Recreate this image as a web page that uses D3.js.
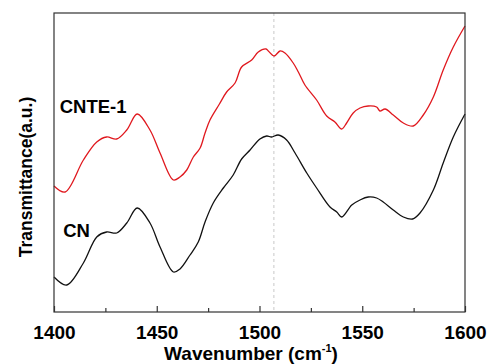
<!DOCTYPE html>
<html lang="en">
<head>
  <meta charset="UTF-8">
  <title>FTIR: CN and CNTE-1</title>
  <script src="https://d3js.org/d3.v7.min.js"></script>
  <style>
    body { margin: 0; background: #fff; }
    svg text { font-family: "Liberation Sans", Arial, sans-serif; font-weight: bold; fill: #000; }
    .line { fill: none; stroke-width: 1.3px; }
  </style>
</head>
<body>
  <svg width="487" height="364"></svg>
  <script>
    // wavenumbers (cm-1) and transmittance (a.u.)
    const cnteWave = [1400, 1405.4, 1414.3, 1420.8, 1425.6, 1430.5, 1435.4, 1440.5, 1446.7, 1451.6,
      1458.1, 1461.3, 1464.6, 1467.8, 1471.1, 1473.5, 1475.9, 1480.5, 1484.0, 1488.1, 1491.3, 1496.2,
      1499.4, 1503.2, 1504.3, 1507.1, 1510.0, 1512.4, 1516.4, 1518.9, 1522.1, 1527.8,
      1532.7, 1536.7, 1540.0, 1542.4, 1545.6, 1548.9, 1552.9, 1557.0, 1558.6, 1561.1,
      1565.1, 1570.0, 1574.8, 1579.7, 1584.6, 1589.4, 1594.3, 1600];
    const cnteValues = [126, 120, 152, 170, 175, 173, 182, 198, 182, 159,
      132, 135, 142, 155, 164, 179, 192, 208, 220, 229, 245, 252,
      260, 263, 261, 256, 261, 259, 249, 240, 227, 212,
      196, 190, 183, 189, 199, 204, 206, 205, 201, 203,
      197, 189, 186, 197, 215, 242, 265, 286];

    const cnWave = [1400, 1406.2, 1414.3, 1420.8, 1425.6, 1430.5, 1435.4, 1440.5, 1446.7, 1451.6,
      1458.1, 1461.3, 1466.2, 1470.2, 1473.5, 1477.5, 1482.4, 1487.2, 1491.3, 1495.4, 1500.2, 1503.5,
      1505.9, 1509.1, 1513.2, 1517.3, 1523.0, 1527.8, 1534.3, 1537.6, 1540.0, 1544.9,
      1548.9, 1552.9, 1557.0, 1560.2, 1565.1, 1570.0, 1574.5, 1578.1, 1584.6, 1589.4,
      1594.3, 1600];
    const cnValues = [35, 27, 49, 75, 80, 79, 89, 104, 89, 65,
      40, 43, 57, 70, 90, 109, 124, 137, 153, 162, 173, 176,
      175, 177, 172, 159, 139, 124, 105, 100, 95, 107,
      112, 115, 114, 110, 102, 95, 93, 99, 122, 149,
      175, 198];

    const xTicks = [1400, 1450, 1500, 1550, 1600];
    const xMinorTicks = [1425, 1475, 1525, 1575];
    const markerWave = 1507;

    const svg = d3.select("svg"),
          margin = {top: 13, right: 22, bottom: 52, left: 54},
          width = +svg.attr("width") - margin.left - margin.right,
          height = +svg.attr("height") - margin.top - margin.bottom;

    const g = svg.append("g").attr("transform", `translate(${margin.left},${margin.top})`);
    const x = d3.scaleLinear().domain([1400, 1600]).range([0, width]);
    const y = d3.scaleLinear().domain([0, 299]).range([height, 0]);

    // dashed guide line
    g.append("line")
      .attr("x1", x(markerWave)).attr("x2", x(markerWave))
      .attr("y1", 0).attr("y2", height)
      .attr("stroke", "#c8c8c8").attr("stroke-width", 1)
      .attr("stroke-dasharray", "3,3");

    const line = (wave) => d3.line()
      .x((d, i) => x(wave[i]))
      .y(d => y(d))
      .curve(d3.curveCatmullRom.alpha(0.5));

    g.append("path").datum(cnteValues).attr("class", "line")
      .attr("stroke", "#e0181e").attr("d", line(cnteWave));
    g.append("path").datum(cnValues).attr("class", "line")
      .attr("stroke", "#111").attr("d", line(cnWave));

    // frame
    g.append("rect").attr("width", width).attr("height", height)
      .attr("fill", "none").attr("stroke", "#333").attr("stroke-width", 1.2);

    // bottom axis, ticks pointing in
    const xAxis = g.append("g").attr("transform", `translate(0,${height})`)
      .call(d3.axisBottom(x).tickValues(xTicks).tickSizeInner(-6).tickSizeOuter(0).tickPadding(14).tickFormat(d3.format("d")));
    xAxis.select(".domain").remove();
    xAxis.selectAll("line").attr("stroke", "#333").attr("stroke-width", 1.2);
    xAxis.selectAll("text").style("font-size", "19px").attr("fill", "#000");

    g.append("g").attr("transform", `translate(0,${height})`)
      .call(d3.axisBottom(x).tickValues(xMinorTicks).tickSize(-4).tickFormat(""))
      .call(a => a.select(".domain").remove())
      .selectAll("line").attr("stroke", "#333").attr("stroke-width", 1.2);

    // series labels
    g.append("text").attr("x", x(1402.8)).attr("y", y(199.5))
      .style("font-size", "18.5px").text("CNTE-1");
    g.append("text").attr("x", x(1404.5)).attr("y", y(75))
      .style("font-size", "18.5px").text("CN");

    // axis titles
    svg.append("text")
      .attr("text-anchor", "middle")
      .attr("transform", `translate(31.5,177) rotate(-90)`)
      .style("font-size", "17.5px")
      .text("Transmittance(a.u.)");

    const xt = svg.append("text")
      .attr("x", 251).attr("y", 360)
      .attr("text-anchor", "middle")
      .style("font-size", "19px");
    xt.append("tspan").text("Wavenumber (cm");
    xt.append("tspan").attr("dy", -8).style("font-size", "11px").text("-1");
    xt.append("tspan").attr("dy", 8).text(")");
  </script>
</body>
</html>
